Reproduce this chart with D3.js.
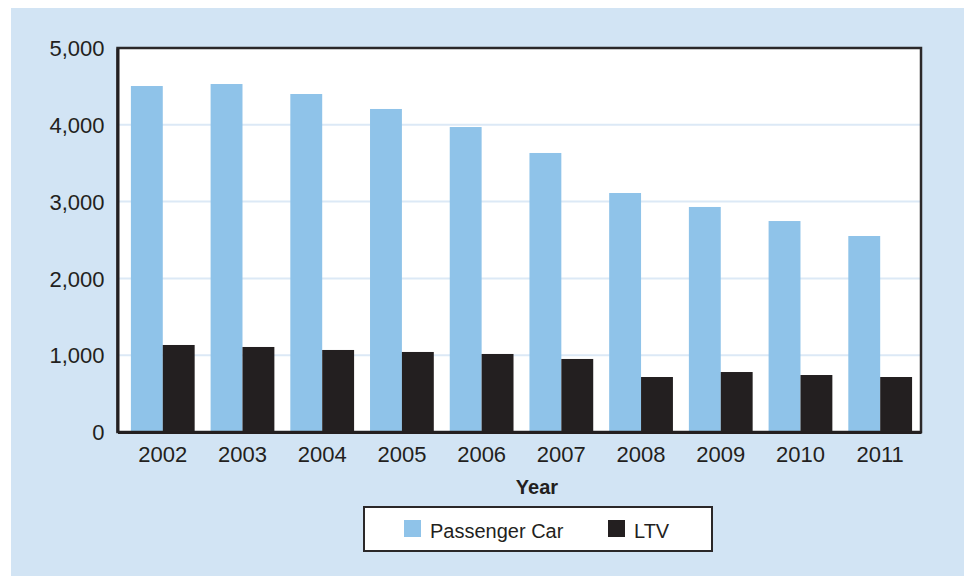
<html>
<head>
  <style>
    body { margin: 0; background: #fff; }
    text { font-family: "Liberation Sans", Arial, sans-serif; fill: #231f20; }
  </style>
  <script src="https://d3js.org/d3.v7.min.js"></script>
</head>
<body>
<script type="text/javascript">
  // chart data
  var years = ["2002","2003","2004","2005","2006","2007","2008","2009","2010","2011"];
  var passengerCar = [4505, 4531, 4401, 4206, 3971, 3633, 3112, 2930, 2747, 2552];
  var ltv = [1133, 1107, 1068, 1042, 1016, 951, 716, 781, 742, 716];
  var seriesNames = ["Passenger Car", "LTV"];
  var seriesColors = ["#8fc3e9", "#231f20"];
  var yTicks = [0, 1000, 2000, 3000, 4000, 5000];

  var screen = {width: 964, height: 576};
  var plot = {left: 117.5, right: 921, top: 48, bottom: 432};

  var svg = d3.select("body").append("svg")
    .attr("width", screen.width)
    .attr("height", screen.height);

  // light blue panel
  svg.append("rect")
    .attr("x", 11).attr("y", 8)
    .attr("width", screen.width - 11)
    .attr("height", screen.height - 8)
    .attr("fill", "#d2e4f4");

  // plot area
  svg.append("rect")
    .attr("x", plot.left).attr("y", plot.top)
    .attr("width", plot.right - plot.left)
    .attr("height", plot.bottom - plot.top)
    .attr("fill", "#fff");

  var yScale = d3.scaleLinear()
    .domain([0, 5000])
    .range([plot.bottom, plot.top]);

  var xScale = d3.scaleBand()
    .domain(years)
    .range([plot.left, plot.right])
    .paddingInner(0.2)
    .paddingOuter(0.14)
    .align(0.6);

  var xInner = d3.scaleBand()
    .domain(seriesNames)
    .range([0, xScale.bandwidth()]);

  // gridlines
  svg.append("g")
    .selectAll("line")
    .data(yTicks.filter(function(d){ return d > 0 && d < 5000; }))
    .enter()
    .append("line")
    .attr("x1", plot.left)
    .attr("x2", plot.right)
    .attr("y1", function(d){ return yScale(d); })
    .attr("y2", function(d){ return yScale(d); })
    .attr("stroke", "#dce9f6")
    .attr("stroke-width", 2);

  // bars
  var series = [passengerCar, ltv];
  series.forEach(function(vals, s){
    svg.append("g")
      .selectAll("rect")
      .data(vals)
      .enter()
      .append("rect")
      .attr("x", function(d, i){ return xScale(years[i]) + xInner(seriesNames[s]); })
      .attr("y", function(d){ return yScale(d); })
      .attr("width", xInner.bandwidth())
      .attr("height", function(d){ return plot.bottom - yScale(d); })
      .attr("fill", seriesColors[s]);
  });

  // frame
  svg.append("rect")
    .attr("x", plot.left).attr("y", plot.top)
    .attr("width", plot.right - plot.left)
    .attr("height", plot.bottom - plot.top)
    .attr("fill", "none")
    .attr("stroke", "#2b2829")
    .attr("stroke-width", 2.5);

  // y axis
  var yAxis = d3.axisLeft(yScale)
    .tickValues(yTicks)
    .tickSize(0)
    .tickPadding(13)
    .tickFormat(d3.format(","));
  var yg = svg.append("g")
    .attr("transform", "translate(" + plot.left + ",0)")
    .call(yAxis);
  yg.select(".domain").attr("stroke", "#231f20").attr("stroke-width", 3);
  yg.selectAll("text")
    .style("font-size", "22px")
    .attr("fill", "#231f20")
    .attr("dy", "0.35em");

  // x axis
  var xAxis = d3.axisBottom(xScale).tickSize(0).tickPadding(14);
  var xg = svg.append("g")
    .attr("transform", "translate(0," + plot.bottom + ")")
    .call(xAxis);
  xg.select(".domain").attr("stroke", "#231f20").attr("stroke-width", 3);
  xg.selectAll("text")
    .style("font-size", "22px")
    .attr("fill", "#231f20");

  // axis title
  svg.append("text")
    .attr("x", 537)
    .attr("y", 494)
    .attr("text-anchor", "middle")
    .style("font-size", "20px")
    .style("font-weight", "bold")
    .text("Year");

  // legend
  var legend = svg.append("g");
  legend.append("rect")
    .attr("x", 364).attr("y", 507)
    .attr("width", 348).attr("height", 44)
    .attr("fill", "#fff")
    .attr("stroke", "#2b2829")
    .attr("stroke-width", 2);

  var legendX = [404, 608];
  seriesNames.forEach(function(name, i){
    legend.append("rect")
      .attr("x", legendX[i]).attr("y", 520)
      .attr("width", 17).attr("height", 17)
      .attr("fill", seriesColors[i]);
    legend.append("text")
      .attr("x", legendX[i] + 26)
      .attr("y", 538)
      .style("font-size", "20px")
      .text(name);
  });
</script>
</body>
</html>
